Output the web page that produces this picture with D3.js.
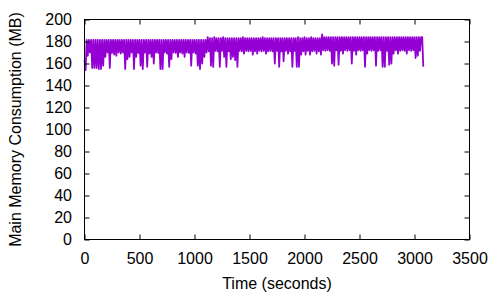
<!DOCTYPE html>
<html>
<head>
<meta charset="utf-8">
<script src="https://cdn.jsdelivr.net/npm/d3@7"></script>
<style>
  body { margin: 0; background: #fff; }
  text { font-family: "Liberation Sans", Arial, sans-serif; }
</style>
</head>
<body>
<div id="chart"></div>
<script>
// sampled memory readings (MB), one every sampleStep seconds starting at 0
var sampleStep = 10;
var memory = [
  163, 154, 181.5, 167, 181.5, 170, 181.5, 156, 181.5, 156,
  181.5, 156, 181.5, 155, 181.5, 155, 181.5, 158, 181.5, 166,
  181.5, 170, 181.5, 156, 181.5, 169.5, 181.5, 168, 181.5, 167,
  181.5, 170, 181.5, 169, 181.5, 170, 181.5, 155, 181.5, 164,
  181.5, 166, 181.5, 170, 181.5, 155, 181.5, 166, 181.5, 169.5,
  181.5, 158, 181.5, 155, 181.5, 170, 181.5, 157, 181.5, 169,
  181.5, 166, 181.5, 160, 181.5, 170, 181.5, 169.5, 181.5, 155,
  181.5, 155, 181.5, 170, 181.5, 169, 181.5, 157, 181.5, 164,
  181.5, 170, 181.5, 169.5, 181.5, 166, 181.5, 170, 181.5, 169,
  181.5, 166, 181.5, 170, 181.5, 169.5, 181.5, 158, 181.5, 170,
  181.5, 169, 181.5, 158, 181.5, 155, 181.5, 160, 181.5, 166,
  181.5, 170, 184, 171, 183, 158, 183, 157, 184, 171.5,
  183, 171, 183, 157, 183, 171.5, 184, 166, 183, 157,
  183, 171, 183, 164, 183, 166, 183, 163, 183, 157,
  183, 171.5, 183, 171, 184, 169, 183, 171.5, 183, 171,
  183, 171.5, 183, 168, 183, 171, 183, 169, 183, 171.5,
  183, 171, 184, 171.5, 183, 169, 183, 171, 183, 171.5,
  183, 171, 183, 160, 183, 171.5, 183, 157, 183, 171,
  183, 162, 183, 171.5, 183, 169, 183, 171, 183, 157,
  183, 171.5, 183, 157, 184, 157, 183, 168, 183, 171,
  184, 168, 183, 171.5, 183, 168, 184, 171, 183, 171.5,
  183, 169, 183, 171, 183, 168, 186.5, 172, 184, 171.5,
  184, 172, 184, 171.5, 184, 160, 184, 158, 184, 172,
  184, 159, 184, 171.5, 184, 169, 184, 172, 184, 171.5,
  184, 172, 184, 160, 184, 171.5, 184, 168, 184, 172,
  184, 171.5, 184, 172, 184, 157, 184, 169, 184, 172,
  184, 171.5, 184, 172, 184, 158, 184, 171.5, 184, 172,
  184, 157, 184, 157, 184, 171.5, 184, 159, 184, 160,
  184, 169, 184, 172, 184, 169, 184, 171.5, 184, 172,
  184, 171.5, 184, 169, 184, 172, 184, 171.5, 184, 172,
  184, 165, 184, 167, 184, 171.5, 184, 184, 157
];

var xTicks = [0, 500, 1000, 1500, 2000, 2500, 3000, 3500];
var yTicks = [0, 20, 40, 60, 80, 100, 120, 140, 160, 180, 200];

var xLabel = "Time (seconds)";
var yLabel = "Main Memory Consumption (MB)";

var width = 500,
    height = 300,
    plot = {left: 84.5, right: 469.5, top: 19.5, bottom: 239.5};

var svg = d3.select("#chart")
  .append("svg")
    .attr("width", width)
    .attr("height", height);

var x = d3.scaleLinear()
    .domain([0, 3500])
    .range([plot.left, plot.right]);

var y = d3.scaleLinear()
    .domain([0, 200])
    .range([plot.bottom, plot.top]);

// the trace - samples are so dense it reads as a solid band
var line = d3.line()
    .x(function(d, i) { return x(i * sampleStep); })
    .y(function(d) { return y(d); });

svg.append("path")
    .datum(memory)
    .attr("fill", "none")
    .attr("stroke", "#9400d3")
    .attr("stroke-width", 1.8)
    .attr("stroke-linejoin", "round")
    .attr("d", line);

// axes, ticks pointing inwards and mirrored on top / right
function styleAxis(g) {
  g.select(".domain").remove();
  g.selectAll(".tick line").attr("stroke", "#000");
  g.selectAll(".tick text")
    .attr("fill", "#000")
    .style("font-size", "16px");
}

svg.append("g")
    .attr("transform", "translate(0," + plot.bottom + ")")
    .call(d3.axisBottom(x).tickValues(xTicks).tickSize(-5).tickPadding(13).tickFormat(d3.format("d")))
    .call(styleAxis);

svg.append("g")
    .attr("transform", "translate(0," + plot.top + ")")
    .call(d3.axisTop(x).tickValues(xTicks).tickSize(-5).tickFormat(""))
    .call(styleAxis);

svg.append("g")
    .attr("transform", "translate(" + plot.left + ",0)")
    .call(d3.axisLeft(y).tickValues(yTicks).tickSize(-5).tickPadding(12.5).tickFormat(d3.format("d")))
    .call(styleAxis);

svg.append("g")
    .attr("transform", "translate(" + plot.right + ",0)")
    .call(d3.axisRight(y).tickValues(yTicks).tickSize(-5).tickFormat(""))
    .call(styleAxis);

// frame
svg.append("rect")
    .attr("x", plot.left)
    .attr("y", plot.top)
    .attr("width", plot.right - plot.left)
    .attr("height", plot.bottom - plot.top)
    .attr("fill", "none")
    .attr("stroke", "#000")
    .attr("stroke-width", 1);

// axis titles
svg.append("text")
    .attr("x", (plot.left + plot.right) / 2)
    .attr("y", 289)
    .attr("text-anchor", "middle")
    .style("font-size", "16px")
    .text(xLabel);

svg.append("text")
    .attr("transform", "translate(21," + (plot.top + plot.bottom) / 2 + ") rotate(-90)")
    .attr("text-anchor", "middle")
    .style("font-size", "16px")
    .text(yLabel);
</script>
</body>
</html>
